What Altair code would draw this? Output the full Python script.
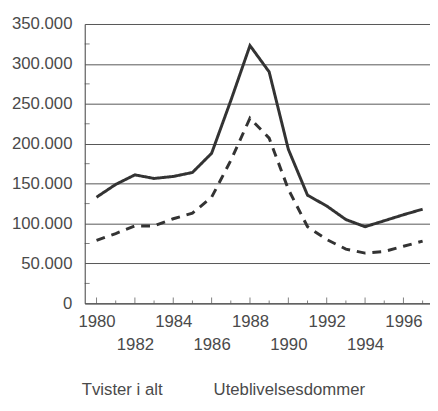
import altair as alt
import pandas as pd

years = list(range(1980, 1998))
tvister_i_alt = [133000, 149000, 161000, 156500, 159000, 164000, 188000, 254000, 323000, 290000,
                 193000, 135500, 122000, 105000, 96000, 103500, 111000, 118000]
uteblivelsesdommer = [79000, 87500, 97000, 97000, 106000, 113000, 133000, 179000, 232000, 207000,
                      143000, 96000, 80000, 68000, 63000, 65000, 71500, 78000]
series = ["Tvister i alt", "Uteblivelsesdommer"]
y_grid_values = [0, 50000, 100000, 150000, 200000, 250000, 300000, 350000]
y_minor_values = [25000, 75000, 125000, 175000, 225000, 275000, 325000]

FONT = "Liberation Sans"
FS = 17
TEXT = "#4a4a4a"
LINE = "#333333"
GRID = "#555555"

df = pd.DataFrame({
    "year": years * 2,
    "value": tvister_i_alt + uteblivelsesdommer,
    "serie": [series[0]] * len(years) + [series[1]] * len(years),
})

x_scale = alt.Scale(domain=[1979.385, 1997.385], nice=False, zero=False)
y_scale = alt.Scale(domain=[0, 350000], nice=False)

x_label_expr = ("datum.value % 2 != 0 ? '' : (datum.value % 4 == 0 ? '' + datum.value "
                ": ['', '' + datum.value])")
y_label_expr = "replace(format(datum.value, ','), ',', '.')"

lines = alt.Chart(df).mark_line(color=LINE, strokeWidth=3, strokeCap="butt").encode(
    x=alt.X("year:Q", scale=x_scale, title=None,
            axis=alt.Axis(values=years, labelExpr=x_label_expr, ticks=False, grid=False,
                          labelPadding=11, labelLineHeight=23, labelFontSize=FS, labelFont=FONT,
                          labelColor=TEXT, domainColor=TEXT, domainWidth=1,
                          labelFlush=False, labelOverlap=False, labelBound=False)),
    y=alt.Y("value:Q", scale=y_scale, title=None,
            axis=alt.Axis(values=y_grid_values, labelExpr=y_label_expr, ticks=False, grid=True,
                          gridColor=GRID, gridWidth=1, gridOpacity=1,
                          labelPadding=13, labelFontSize=FS, labelFont=FONT, labelColor=TEXT,
                          domainColor=TEXT, domainWidth=1, labelFlush=False,
                          labelOverlap=False)),
    strokeDash=alt.StrokeDash("serie:N", title=None,
                              scale=alt.Scale(domain=series, range=[[1, 0], [9, 7]]),
                              legend=alt.Legend(orient="none", legendX=-20, legendY=363,
                                                direction="horizontal", symbolOpacity=0,
                                                symbolSize=0, labelOffset=0, columnPadding=34,
                                                labelFontSize=FS, labelFont=FONT,
                                                labelColor=TEXT, labelLimit=300, padding=0)),
)

year_df = pd.DataFrame({"year": years})

x_major = alt.Chart(year_df).transform_filter("datum.year % 2 == 0").mark_tick(
    orient="vertical", size=6, thickness=1, color=TEXT, yOffset=-3
).encode(x=alt.X("year:Q", title=None), y=alt.YDatum(0, title=None))

x_minor = alt.Chart(year_df).transform_filter("datum.year % 2 != 0").mark_tick(
    orient="vertical", size=3, thickness=1, color=TEXT, yOffset=-1.5
).encode(x=alt.X("year:Q", title=None), y=alt.YDatum(0, title=None))

y_minor = alt.Chart(pd.DataFrame({"value": y_minor_values})).mark_tick(
    orient="horizontal", size=5, thickness=1, color=TEXT
).encode(y=alt.Y("value:Q", title=None), x=alt.value(2.5))

chart = alt.layer(lines, x_major, x_minor, y_minor).properties(
    width=351, height=284,
    autosize=alt.AutoSizeParams(type="none"),
    padding={"left": 78, "top": 13, "right": 0, "bottom": 97},
).configure_view(stroke=None).configure(background="white")

chart.save("out.html", embed_options={"renderer": "svg", "actions": False})
